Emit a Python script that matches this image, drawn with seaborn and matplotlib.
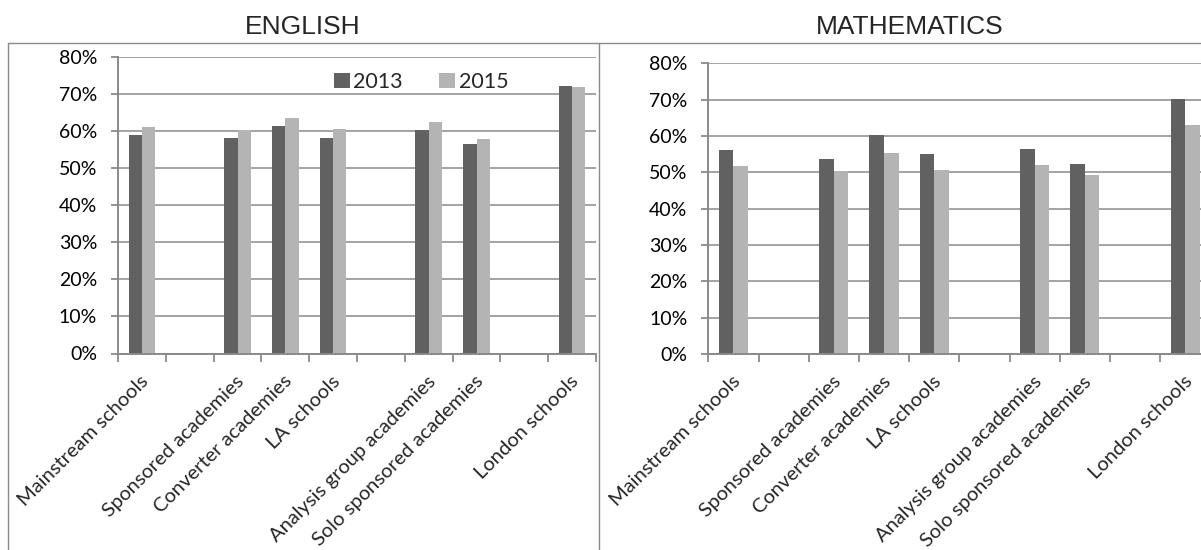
import matplotlib
matplotlib.use("Agg")
import matplotlib.pyplot as plt
import matplotlib.transforms as mtransforms
import seaborn as sns
import pandas as pd
from matplotlib.lines import Line2D
from matplotlib.ticker import FixedLocator, FuncFormatter

# ---------------- data ----------------
categories = ["Mainstream schools", " ", "Sponsored academies", "Converter academies",
              "LA schools", "  ", "Analysis group academies", "Solo sponsored academies",
              "   ", "London schools"]
schools = ["Mainstream schools", "Sponsored academies", "Converter academies", "LA schools",
           "Analysis group academies", "Solo sponsored academies", "London schools"]
years = ["2013", "2015"]
english_2013 = [58.9, 58.0, 61.4, 58.2, 60.2, 56.5, 72.1]
english_2015 = [61.0, 60.3, 63.5, 60.6, 62.3, 57.8, 71.8]
maths_2013 = [56.1, 53.8, 60.2, 55.1, 56.3, 52.2, 70.3]
maths_2015 = [51.6, 50.3, 55.3, 50.6, 52.0, 49.3, 62.9]
y_ticks = [0, 10, 20, 30, 40, 50, 60, 70, 80]
panel_titles = ["ENGLISH", "MATHEMATICS"]
colors = {"2013": "#616161", "2015": "#b4b4b4"}


def frame(v13, v15):
    return pd.DataFrame({
        "school": schools * 2,
        "year": ["2013"] * len(schools) + ["2015"] * len(schools),
        "value": v13 + v15,
    })


df_eng = frame(english_2013, english_2015)
df_math = frame(maths_2013, maths_2015)

sns.set_theme(style="white")
plt.rcParams["font.family"] = ["Lato", "DejaVu Sans"]

W, H = 1201, 550
fig = plt.figure(figsize=(W / 100, H / 100), dpi=100)
fig.patch.set_facecolor("white")

GRAY = "#8a8a8a"


def px_axes(left, right, y0, y80):
    return fig.add_axes([left / W, (H - y0) / H, (right - left) / W, (y0 - y80) / H])


ax1 = px_axes(118, 596, 353.5, 56.7)
ax2 = px_axes(708.3, 1210.3, 354, 63.3)

shift = mtransforms.ScaledTranslation(4 / 100, 0, fig.dpi_scale_trans)

for ax, df, w, leg in [(ax1, df_eng, 0.56, True), (ax2, df_math, 0.58, False)]:
    sns.barplot(data=df, x="school", y="value", hue="year", order=categories,
                hue_order=years, palette=colors, width=w, gap=0, saturation=1,
                errorbar=None, ax=ax, legend=leg, linewidth=0)
    ax.set_xlim(-0.5, len(categories) - 0.5)
    ax.set_ylim(0, 80)
    ax.set_xlabel("")
    ax.set_ylabel("")
    for s in ["top", "right"]:
        ax.spines[s].set_visible(False)
    for s in ["left", "bottom"]:
        ax.spines[s].set_color(GRAY)
        ax.spines[s].set_linewidth(1.4)
    ax.yaxis.set_major_locator(FixedLocator(y_ticks))
    ax.yaxis.set_major_formatter(FuncFormatter(lambda v, p: f"{v:.0f}%"))
    ax.yaxis.grid(True, color=GRAY, linewidth=1.1)
    ax.xaxis.grid(False)
    ax.set_axisbelow(True)
    ax.tick_params(axis="y", direction="out", length=5, width=1.3, color=GRAY,
                   labelsize=14, pad=10, left=True)
    # category labels at slot centres, tick marks at slot boundaries
    ax.set_xticks(range(len(categories)))
    ax.set_xticks([i - 0.5 for i in range(len(categories) + 1)], minor=True)
    ax.tick_params(axis="x", which="major", length=0, pad=18, labelsize=14.5)
    ax.tick_params(axis="x", which="minor", direction="out", length=6, width=1.3,
                   color=GRAY, bottom=True)
    ax.set_xticklabels(categories, rotation=45, ha="right", va="center",
                       rotation_mode="anchor")
    for lab in ax.get_xticklabels():
        lab.set_transform(lab.get_transform() + shift)
    for lab in ax.get_yticklabels():
        lab.set_color("black")

sns.move_legend(ax1, "center", bbox_to_anchor=(0.634, 0.915), ncol=2, frameon=False,
                title=None, prop={"family": "Lato", "size": 15.5}, handlelength=0.75,
                handleheight=0.75, handletextpad=0.15, columnspacing=1.7)

# panel titles
fig.text(302.5 / W, 1 - 26.5 / H, panel_titles[0], ha="center", va="center",
         fontsize=19, family="Liberation Sans")
fig.text(909.5 / W, 1 - 26.5 / H, panel_titles[1], ha="center", va="center",
         fontsize=19, family="Liberation Sans")

# chart-area borders
ytop = 1 - 42.7 / H
for xs, ys in [([8 / W, 8 / W], [0, ytop]),
               ([599.3 / W, 599.3 / W], [0, ytop]),
               ([8 / W, 1.0], [ytop, ytop])]:
    fig.add_artist(Line2D(xs, ys, transform=fig.transFigure, color=GRAY, lw=1.0))

fig.savefig("out.png", dpi=100, facecolor="white")
